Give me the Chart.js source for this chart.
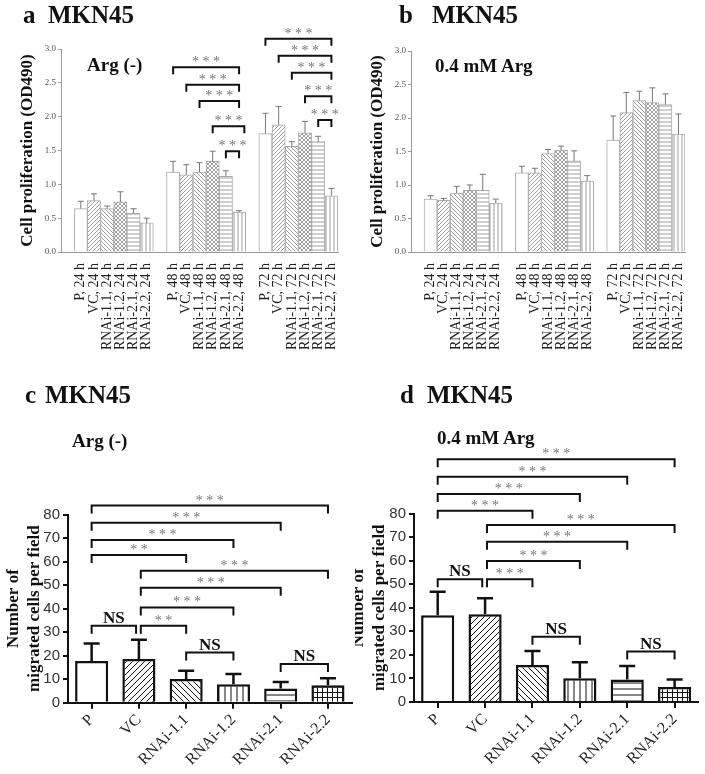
<!DOCTYPE html>
<html lang="en">
<head>
<meta charset="UTF-8" />
<title>MKN45 proliferation and migration</title>
<script src="https://cdn.jsdelivr.net/npm/chart.js"></script>
<style>
  body { margin: 0; background: #fff; }
  #fig { position: relative; width: 705px; height: 774px; overflow: hidden; background: #fff; }
  #fig canvas { position: absolute; }
  .lbl { position: absolute; font-family: 'Liberation Serif', serif; font-weight: bold; line-height: 1; white-space: nowrap; color: #111; }
  .big { font-size: 25px; }
  .cond { font-size: 19px; }
</style>
</head>
<body>
<div id="fig">
  <canvas id="chartA" width="352" height="380" style="left:0;top:0"></canvas>
  <canvas id="chartB" width="353" height="380" style="left:352px;top:0"></canvas>
  <canvas id="chartC" width="355" height="394" style="left:0;top:380px"></canvas>
  <canvas id="chartD" width="350" height="394" style="left:355px;top:380px"></canvas>

  <!-- panel titles -->
  <div class="lbl big" style="left:23px;top:2px">a</div>
  <div class="lbl big" style="left:48px;top:2px">MKN45</div>
  <div class="lbl big" style="left:399px;top:2px">b</div>
  <div class="lbl big" style="left:432px;top:2px">MKN45</div>
  <div class="lbl big" style="left:25px;top:382px">c</div>
  <div class="lbl big" style="left:45px;top:382px">MKN45</div>
  <div class="lbl big" style="left:400px;top:382px">d</div>
  <div class="lbl big" style="left:427px;top:382px">MKN45</div>

  <!-- conditions -->
  <div class="lbl cond" style="left:87px;top:55px">Arg (-)</div>
  <div class="lbl cond" style="left:435px;top:56px">0.4 mM Arg</div>
  <div class="lbl cond" style="left:72px;top:431px">Arg (-)</div>
  <div class="lbl cond" style="left:437px;top:428px">0.4 mM Arg</div>
</div>

<script>
  // proliferation (OD490), groups of six per time point
  const procGroups = ['P', 'VC', 'RNAi-1.1', 'RNAi-1.2', 'RNAi-2.1', 'RNAi-2.2'];
  const procTimes = ['24 h', '48 h', '72 h'];

  const argNegMean24 = [0.64, 0.76, 0.64, 0.74, 0.57, 0.43];
  const argNegSd24 = [0.11, 0.10, 0.04, 0.15, 0.07, 0.07];
  const argNegMean48 = [1.18, 1.14, 1.18, 1.34, 1.12, 0.59];
  const argNegSd48 = [0.16, 0.15, 0.14, 0.15, 0.08, 0.02];
  const argNegMean72 = [1.75, 1.88, 1.56, 1.76, 1.63, 0.83];
  const argNegSd72 = [0.30, 0.27, 0.07, 0.17, 0.08, 0.11];

  const argMean24 = [0.79, 0.77, 0.88, 0.92, 0.92, 0.73];
  const argSd24 = [0.05, 0.03, 0.10, 0.08, 0.24, 0.06];
  const argMean48 = [1.18, 1.18, 1.47, 1.52, 1.36, 1.06];
  const argSd48 = [0.10, 0.07, 0.06, 0.06, 0.15, 0.08];
  const argMean72 = [1.67, 2.08, 2.26, 2.23, 2.20, 1.76];
  const argSd72 = [0.36, 0.30, 0.14, 0.22, 0.16, 0.30];

  // [from index, to index, level, label] on the category axis with spacer slots
  const procArgNegBrackets = [
    [8, 13, 2.73, '***'], [9, 13, 2.47, '***'], [10, 13, 2.23, '***'], [11, 13.4, 1.86, '***'], [12, 13, 1.49, '***'],
    [15, 20, 3.15, '***'], [16, 20, 2.90, '***'], [17, 20, 2.65, '***'], [18, 20, 2.30, '***'], [19, 20, 1.95, '***']
  ];

  // migration (cells per field)
  const migLabels = ['P', 'VC', 'RNAi-1.1', 'RNAi-1.2', 'RNAi-2.1', 'RNAi-2.2'];
  const migArgNegMean = [17.7, 18.6, 10.1, 7.8, 6.0, 7.4];
  const migArgNegSd = [7.5, 8.2, 3.5, 4.4, 2.8, 3.0];
  const migArgMean = [36.8, 37.2, 15.7, 10.1, 9.6, 6.4];
  const migArgSd = [10.0, 6.8, 5.9, 6.8, 5.7, 3.2];

  const migArgNegBrackets = [
    [0, 5, 83.8, '***'], [0, 4, 76.5, '***'], [0, 3, 69.2, '***'], [0, 2, 62.8, '**'],
    [1.04, 5, 56.1, '***'], [1.04, 4, 48.9, '***'], [1.04, 3, 40.5, '***'], [1.04, 2, 32.7, '**'],
    [0, 0.94, 32.7, 'NS'], [2, 3, 21.3, 'NS'], [4, 5, 16.4, 'NS']
  ];
  const migArgBrackets = [
    [0, 5, 103.0, '***'], [0, 4, 95.6, '***'], [0, 3, 88.3, '***'], [0, 2, 81.2, '***'],
    [1.04, 5, 75.1, '***'], [1.04, 4, 68.0, '***'], [1.04, 3, 59.8, '***'], [1.04, 2, 52.1, '***'],
    [0, 0.94, 52.1, 'NS'], [2, 3, 27.7, 'NS'], [4, 5, 21.4, 'NS']
  ];

  const SERIF = "'Liberation Serif', serif";
  const SANS = "'Liberation Sans', Arial, sans-serif";

  function makePattern(kind, color, size, lw) {
    const c = document.createElement('canvas');
    c.width = c.height = size;
    const g = c.getContext('2d');
    g.fillStyle = '#fff';
    g.fillRect(0, 0, size, size);
    g.strokeStyle = color;
    g.lineWidth = lw;
    g.beginPath();
    if (kind === 'fwd' || kind === 'cross') {
      for (let k = -1; k <= 1; k++) { g.moveTo(k * size, size); g.lineTo(k * size + size, 0); }
    }
    if (kind === 'back' || kind === 'cross') {
      for (let k = -1; k <= 1; k++) { g.moveTo(k * size, 0); g.lineTo(k * size + size, size); }
    }
    if (kind === 'h' || kind === 'grid') { g.moveTo(0, size / 2); g.lineTo(size, size / 2); }
    if (kind === 'v' || kind === 'grid') { g.moveTo(size / 2, 0); g.lineTo(size / 2, size); }
    g.stroke();
    return g.createPattern(c, 'repeat');
  }

  const procFillKinds = ['none', 'fwd', 'back', 'cross', 'h', 'v'];
  const migFillKinds = ['none', 'fwd', 'back', 'v', 'h', 'grid'];
  const procFill = procFillKinds.map(k => k === 'none' ? '#fff' : makePattern(k, '#a0a0a0', 4, 1));
  const migFill = migFillKinds.map(k => k === 'none' ? '#fff' : makePattern(k, '#111', k === 'grid' ? 5 : 6, 1));

  // spacer slot before each time point
  const procAxisLabels = [];
  procTimes.forEach(t => { procAxisLabels.push(''); procGroups.forEach(g => procAxisLabels.push(g + ', ' + t)); });
  const withSpacers = (a, b, c) => [null, ...a, null, ...b, null, ...c];
  const procColors = withSpacers(procFill, procFill, procFill).map(c => c || 'transparent');

  function errorBars(sd, style) {
    return {
      id: 'errorBars',
      afterDatasetsDraw(chart) {
        const { ctx } = chart;
        const y = chart.scales.y;
        const values = chart.data.datasets[0].data;
        ctx.save();
        ctx.strokeStyle = style.color;
        ctx.lineWidth = style.width;
        chart.getDatasetMeta(0).data.forEach((bar, i) => {
          if (values[i] == null || sd[i] == null) return;
          const top = y.getPixelForValue(values[i] + sd[i]);
          ctx.beginPath();
          ctx.moveTo(bar.x, bar.y);
          ctx.lineTo(bar.x, top);
          ctx.moveTo(bar.x - style.cap, top);
          ctx.lineTo(bar.x + style.cap, top);
          ctx.stroke();
        });
        ctx.restore();
      }
    };
  }

  function brackets(items, style) {
    return {
      id: 'brackets',
      afterDraw(chart) {
        const { ctx, scales: { x, y } } = chart;
        ctx.save();
        items.forEach(([a, b, level, label]) => {
          const x1 = x.getPixelForValue(a), x2 = x.getPixelForValue(b), yy = y.getPixelForValue(level);
          ctx.strokeStyle = '#111';
          ctx.lineWidth = style.width;
          ctx.beginPath();
          ctx.moveTo(x1, yy + style.drop);
          ctx.lineTo(x1, yy);
          ctx.lineTo(x2, yy);
          ctx.lineTo(x2, yy + style.drop);
          ctx.stroke();
          const ns = label === 'NS';
          ctx.font = ns ? 'bold 17px ' + SERIF : '14px ' + SERIF;
          ctx.fillStyle = ns ? '#111' : '#777';
          ctx.textAlign = 'center';
          ctx.textBaseline = 'alphabetic';
          ctx.fillText(ns ? label : label.split('').join(' '), (x1 + x2) / 2, yy - (ns ? 3 : 1));
        });
        ctx.restore();
      }
    };
  }

  function procChart(id, means, sds, bracketItems, box) {
    new Chart(document.getElementById(id), {
      type: 'bar',
      data: {
        labels: procAxisLabels,
        datasets: [{
          data: means,
          backgroundColor: procColors,
          borderColor: '#ababab',
          borderWidth: 1,
          barPercentage: 1,
          categoryPercentage: 1
        }]
      },
      options: {
        responsive: false,
        animation: false,
        events: [],
        layout: { padding: { top: box.top, right: box.right, left: 0, bottom: 0 } },
        plugins: { legend: { display: false }, tooltip: { enabled: false } },
        scales: {
          x: {
            grid: { display: false },
            border: { color: '#9a9a9a', width: 1 },
            ticks: {
              autoSkip: false, minRotation: 90, maxRotation: 90, padding: 3,
              color: '#222', font: { family: SERIF, size: 14 }
            },
            afterFit: s => { s.height = 128; s.paddingLeft = 0; s.paddingRight = 0; }
          },
          y: {
            min: 0, max: 3,
            grid: { drawOnChartArea: false, tickLength: 3, color: '#9a9a9a' },
            border: { color: '#9a9a9a', width: 1 },
            ticks: {
              stepSize: 0.5, padding: 2, color: '#555',
              font: { family: SERIF, size: 9 },
              callback: v => v.toFixed(1)
            },
            title: {
              display: true, text: 'Cell proliferation (OD490)', color: '#111',
              font: { family: SERIF, size: 17, weight: 'bold', lineHeight: 1.2 },
              padding: { top: box.titlePad, bottom: 0 }
            },
            afterFit: s => { s.width = box.axis; s.paddingTop = 0; s.paddingBottom = 0; }
          }
        }
      },
      plugins: [errorBars(sds, { color: '#777', width: 1, cap: 3 }), brackets(bracketItems, { width: 2, drop: 7 })]
    });
  }

  function migChart(id, means, sds, bracketItems, box) {
    new Chart(document.getElementById(id), {
      type: 'bar',
      data: {
        labels: migLabels,
        datasets: [{
          data: means,
          backgroundColor: migFill,
          borderColor: '#111',
          borderWidth: 2.5,
          borderSkipped: 'bottom',
          barPercentage: 0.7,
          categoryPercentage: 1
        }]
      },
      options: {
        responsive: false,
        animation: false,
        events: [],
        layout: { padding: { top: box.top, right: box.right, left: 0, bottom: 0 } },
        plugins: { legend: { display: false }, tooltip: { enabled: false } },
        scales: {
          x: {
            grid: { drawOnChartArea: false, offset: false, tickLength: 6, color: '#111', lineWidth: 2 },
            border: { color: '#111', width: 2 },
            ticks: {
              autoSkip: false, minRotation: 45, maxRotation: 45, padding: 2,
              color: '#222', font: { family: SERIF, size: 16 }
            },
            afterFit: s => { s.height = box.xh; s.paddingLeft = 0; s.paddingRight = 0; }
          },
          y: {
            min: 0, max: 80,
            grid: { drawOnChartArea: false, tickLength: 5, color: '#111', lineWidth: 2 },
            border: { color: '#111', width: 2 },
            ticks: { stepSize: 10, padding: 3, color: '#333', font: { family: SANS, size: 15 } },
            title: {
              display: true, text: ['Number of', 'migrated cells per field'], color: '#111',
              font: { family: SERIF, size: 17, weight: 'bold', lineHeight: 1.25 },
              padding: { top: box.titlePad, bottom: 0 }
            },
            afterFit: s => { s.width = box.axis; s.paddingTop = 0; s.paddingBottom = 0; }
          }
        }
      },
      plugins: [errorBars(sds, { color: '#111', width: 2.5, cap: 8 }), brackets(bracketItems, { width: 2, drop: 8 })]
    });
  }

  procChart('chartA',
    withSpacers(argNegMean24, argNegMean48, argNegMean72),
    withSpacers(argNegSd24, argNegSd48, argNegSd72),
    procArgNegBrackets,
    { top: 49, right: 14, axis: 61, titlePad: 17.8 });

  procChart('chartB',
    withSpacers(argMean24, argMean48, argMean72),
    withSpacers(argSd24, argSd48, argSd72),
    [],
    { top: 51, right: 20, axis: 59, titlePad: 15.8 });

  migChart('chartC', migArgNegMean, migArgNegSd, migArgNegBrackets,
    { top: 134.5, right: 3.4, axis: 68, xh: 71.3, titlePad: 2.9 });

  migChart('chartD', migArgMean, migArgSd, migArgBrackets,
    { top: 133.5, right: 6.7, axis: 59, xh: 72, titlePad: -7 });
</script>
</body>
</html>
